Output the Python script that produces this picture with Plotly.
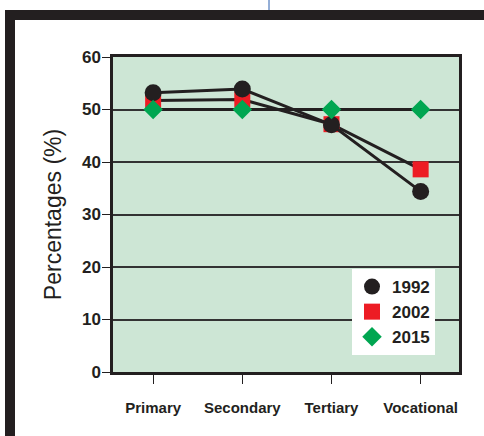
import plotly.graph_objects as go

categories = ["Primary", "Secondary", "Tertiary", "Vocational"]
series_names = ["1992", "2002", "2015"]
values_1992 = [53.2, 53.9, 47.1, 34.4]
values_2002 = [51.7, 51.9, 47.2, 38.6]
values_2015 = [50.0, 50.0, 50.0, 50.0]
y_ticks = [0, 10, 20, 30, 40, 50, 60]

W, H = 484, 436
L, R, T, B = 113, 459, 57, 372  # plot area in px


def px_x(px):
    return (px - L) / (R - L)


def px_y(py):
    return (B - py) / (B - T)


FONT = "Liberation Sans, Arial, sans-serif"
INK = "#231f20"

fig = go.Figure()

series = [
    (series_names[1], values_2002, "square", 16, "#ed1c24", 2),
    (series_names[0], values_1992, "circle", 17, INK, 1),
    (series_names[2], values_2015, "diamond", 15, "#00a651", 3),
]
for name, vals, sym, size, col, rank in series:
    fig.add_trace(go.Scatter(
        x=categories, y=vals, name=name, showlegend=False,
        mode="lines", line=dict(color=INK, width=3), hoverinfo="skip",
    ))
    fig.add_trace(go.Scatter(
        x=categories, y=vals, name=name, legendrank=rank,
        mode="markers",
        marker=dict(symbol=sym, size=size, color=col),
    ))

shapes = [
    dict(type="rect", xref="paper", yref="paper",
         x0=px_x(5), x1=px_x(490), y0=px_y(20), y1=px_y(10),
         fillcolor=INK, line=dict(width=0), layer="above"),
    dict(type="rect", xref="paper", yref="paper",
         x0=px_x(5), x1=px_x(15), y0=px_y(440), y1=px_y(10),
         fillcolor=INK, line=dict(width=0), layer="above"),
    dict(type="line", xref="paper", yref="paper",
         x0=px_x(269), x1=px_x(269), y0=px_y(0), y1=px_y(10),
         line=dict(color="#2b5fae", width=1)),
]

fig.update_layout(
    width=W, height=H,
    margin=dict(l=L, r=W - R, t=T, b=H - B, autoexpand=False),
    paper_bgcolor="white",
    plot_bgcolor="#cde6d5",
    shapes=shapes,
    font=dict(family=FONT, color=INK),
    showlegend=True,
    legend=dict(
        x=px_x(352), y=px_y(269), xanchor="left", yanchor="top",
        bgcolor="white", borderwidth=0,
        font=dict(family=FONT, size=17, color=INK, weight="bold"),
        tracegroupgap=0,
    ),
    xaxis=dict(
        type="category",
        range=[-0.45, 3.43],
        showgrid=False,
        showline=True, linecolor=INK, linewidth=2.5, mirror=True,
        ticks="outside", ticklen=9, tickwidth=1.2, tickcolor=INK,
        tickfont=dict(family=FONT, size=15, color=INK, weight="bold"),
        ticklabelstandoff=11,
        zeroline=False,
    ),
    yaxis=dict(
        range=[0, 60],
        tickvals=y_ticks,
        showgrid=True, gridcolor="#333333", gridwidth=1.5,
        showline=True, linecolor=INK, linewidth=2.5, mirror=True,
        ticks="outside", ticklen=8, tickwidth=1.2, tickcolor=INK,
        tickfont=dict(family=FONT, size=17, color=INK, weight="bold"),
        ticklabelstandoff=-2,
        zeroline=False,
        title=dict(text="Percentages (%)",
                   font=dict(family=FONT, size=23, color=INK),
                   standoff=14),
    ),
)

fig.write_html("out.html", config={"displayModeBar": False},
               post_script="document.body.style.margin='0';")
